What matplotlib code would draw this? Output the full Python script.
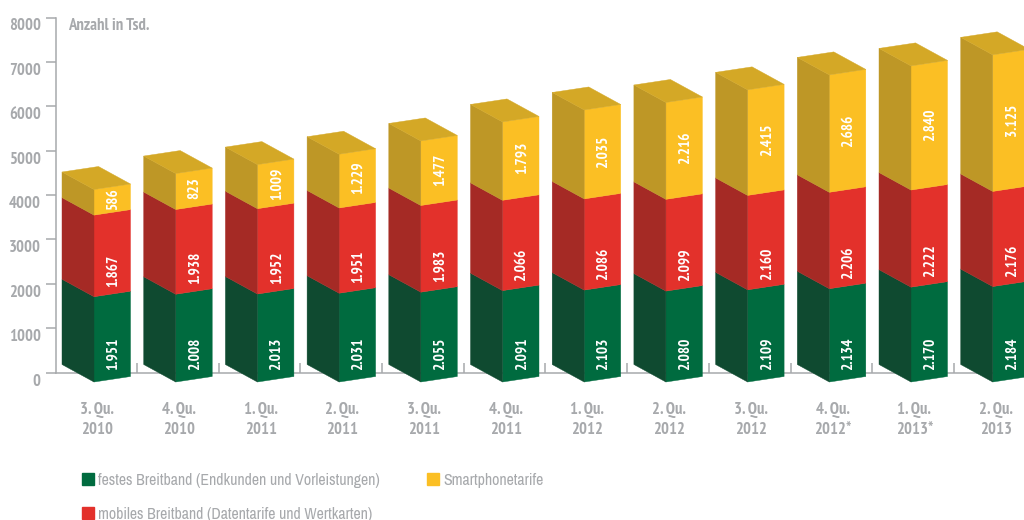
import matplotlib
matplotlib.use('Agg')
import matplotlib.pyplot as plt
from matplotlib.patches import Patch
from matplotlib.transforms import ScaledTranslation
import numpy as np

quartale = ['3. Qu.\n2010', '4. Qu.\n2010', '1. Qu.\n2011', '2. Qu.\n2011', '3. Qu.\n2011', '4. Qu.\n2011',
            '1. Qu.\n2012', '2. Qu.\n2012', '3. Qu.\n2012', '4. Qu.\n2012*', '1. Qu.\n2013*', '2. Qu.\n2013']
festes = [1951, 2008, 2013, 2031, 2055, 2091, 2103, 2080, 2109, 2134, 2170, 2184]
mobiles = [1867, 1938, 1952, 1951, 1983, 2066, 2086, 2099, 2160, 2206, 2222, 2176]
smartphone = [586, 823, 1009, 1229, 1477, 1793, 2035, 2216, 2415, 2686, 2840, 3125]

GRAU = '#a7a9ac'
plt.rcParams['font.family'] = ['Archivo Narrow', 'Liberation Sans Narrow', 'Liberation Sans', 'DejaVu Sans']
FETT = ['PT Sans Narrow', 'Liberation Sans Narrow', 'Liberation Sans', 'DejaVu Sans']

W, H = 1024, 520
PITCH = 81.7     # px pro Balken
PX_Y = 0.044375  # px pro Einheit auf der Achse
SCALE = 0.985    # Balken sind etwas flacher als die Achse


def dx(px):
    return px / PITCH


def dy(px):
    return px / PX_Y


fig = plt.figure(figsize=(W / 100, H / 100), dpi=100)
ax = fig.add_axes([0, 0, 1, 1])
ax.patch.set_alpha(0)

# Pseudo-3D Geometrie
front_w, front_rise = dx(36.5), dy(5.5)
depth_x, depth_rise = dx(-32), dy(17.5)
base = dy(-9.5)

farben = [('#006b3f', '#0f4a30'), ('#e3312b', '#a52a25'), ('#fbbf24', '#be9726')]
dach = '#d4a826'

serien = np.array([festes, mobiles, smartphone], dtype=float)
unten = np.vstack([np.zeros(len(festes)), np.cumsum(serien, axis=0)[:-1]]) * SCALE + base
oben = np.cumsum(serien, axis=0) * SCALE + base

for i in range(len(festes)):
    for s in range(3):
        u, o = unten[s, i], oben[s, i]
        front, seite = farben[s]
        ax.fill([i, i + front_w, i + front_w, i], [u, u + front_rise, o + front_rise, o],
                color=front, lw=0.3, zorder=3)
        ax.fill([i + depth_x, i, i, i + depth_x], [u + depth_rise, u, o, o + depth_rise],
                color=seite, lw=0.3, zorder=3)
    top = oben[2, i]
    ax.fill([i, i + front_w, i + front_w + depth_x, i + depth_x],
            [top, top + front_rise, top + front_rise + depth_rise, top + depth_rise],
            color=dach, lw=0.3, zorder=3)

    # Werte in den Balken
    tx = i + dx(19)
    for s, (y, va) in enumerate([(unten[0, i] + dy(12), 'bottom'),
                                 (unten[1, i] + dy(10), 'bottom'),
                                 ((unten[2, i] + oben[2, i]) / 2 + dy(3), 'center')]):
        label = f'{int(serien[s, i]):,}'.replace(',', '.')
        ax.text(tx, y, label, rotation=90, color='white', fontsize=11, fontweight='bold',
                family=FETT, ha='center', va=va, zorder=4)

# Achsen
ax.set_yticks(np.arange(0, 8001, 1000))
ax.tick_params(axis='y', direction='out', length=7.5, width=1.1, color=GRAU, labelcolor=GRAU,
               labelsize=12, pad=3.5)
ax.set_xticks(np.arange(len(festes)) + 0.526)
ax.tick_params(axis='x', which='major', direction='in', length=7, width=1.1, color=GRAU, labelbottom=False)
ax.set_xticks(np.arange(len(festes)) + 0.04, minor=True)
ax.set_xticklabels(quartale, minor=True)
ax.tick_params(axis='x', which='minor', length=0, pad=21, labelcolor=GRAU, labelsize=12)

# Grenzen erst nach den Ticks setzen, sonst werden sie aufgeweitet
ax.set_xlim(-94 / PITCH, (W - 94) / PITCH)
ax.set_ylim(-(H - 372.5) / PX_Y, 372.5 / PX_Y)

for name in ['top', 'right']:
    ax.spines[name].set_visible(False)
achse_x = dx(56 - 94)
ax.spines['left'].set_position(('data', achse_x))
ax.spines['left'].set_bounds(0, 8000)
ax.spines['bottom'].set_position(('data', 0))
ax.spines['bottom'].set_bounds(achse_x, ax.get_xlim()[1])
for name in ['left', 'bottom']:
    ax.spines[name].set_color(GRAU)
    ax.spines[name].set_linewidth(1.1)

# set_position setzt die Ticks zurueck, also Labels erst danach anpassen
versatz = ScaledTranslation(0, -7 / 100, fig.dpi_scale_trans)
for t in ax.get_yticklabels():
    t.set_fontweight('bold')
    t.set_family(FETT)
    t.set_transform(t.get_transform() + versatz)
for t in ax.get_xticklabels(minor=True):
    t.set_fontweight('bold')
    t.set_family(FETT)
    t.set_linespacing(1.35)

ax.text(dx(68 - 94), dy(372.5 - 26), 'Anzahl in Tsd.', color=GRAU, fontsize=12, fontweight='bold',
        family=FETT, ha='left', va='center')

# Legende
griffe = [Patch(color=farben[0][0], label='festes Breitband (Endkunden und Vorleistungen)'),
          Patch(color=farben[1][0], label='mobiles Breitband (Datentarife und Wertkarten)'),
          Patch(color=farben[2][0], label='Smartphonetarife')]
leg = ax.legend(handles=griffe, ncol=2, frameon=False, loc='upper left',
                bbox_to_anchor=(82 / W, 1 - 472.5 / H), borderaxespad=0, borderpad=0,
                handlelength=0.75, handleheight=0.75, handletextpad=0.25,
                labelspacing=1.22, columnspacing=3.0, fontsize=11.4, labelcolor=GRAU)

fig.savefig('out.png', dpi=100)
